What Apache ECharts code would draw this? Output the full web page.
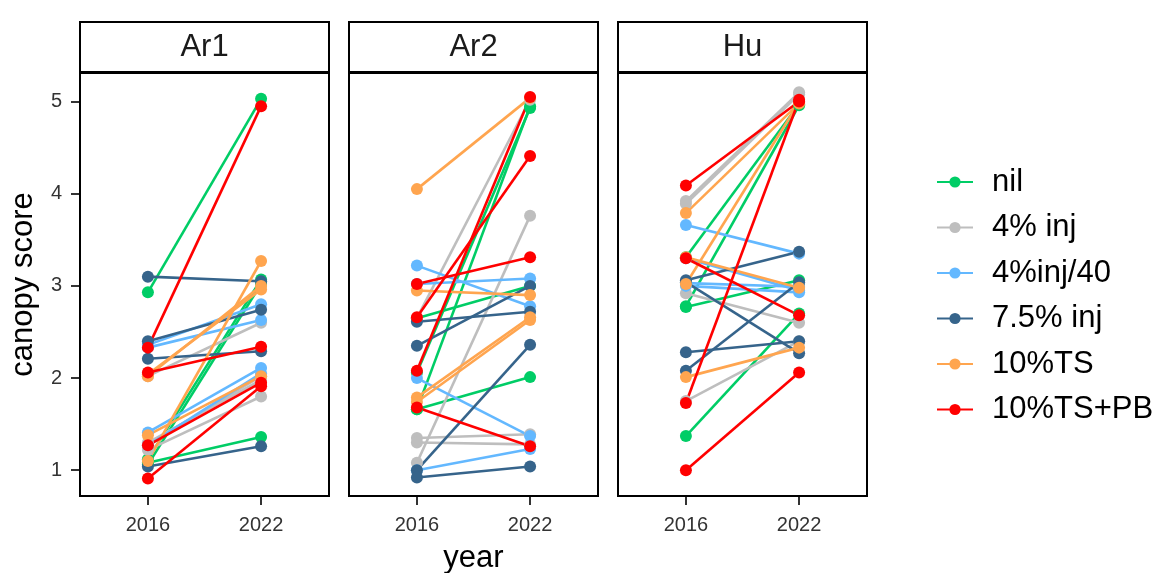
<!DOCTYPE html>
<html><head><meta charset="utf-8">
<script src="https://cdn.jsdelivr.net/npm/echarts@6/dist/echarts.min.js"></script>
<style>html,body{margin:0;padding:0;background:#fff}#c{width:1163px;height:573px}</style>
</head><body><div id="c"></div>
<script>
// ---------------- data ----------------
const sites = ['Ar1', 'Ar2', 'Hu'];
const years = ['2016', '2022'];
const treatments = ['nil', '4% inj', '4%inj/40', '7.5% inj', '10%TS', '10%TS+PB'];
const yTicks = [1, 2, 3, 4, 5];
// rows follow the treatments order; each row holds 4 plots (2016 start, 2022 end)
const ar1Start = [
  [2.93, 1.12, 1.06, 1.08],
  [2.02, 1.28, 1.22, 1.30],
  [2.36, 2.33, 1.41, 1.27],
  [3.10, 2.40, 2.21, 1.04],
  [2.02, 2.04, 1.10, 1.38],
  [2.33, 2.06, 1.27, 0.91]
];
const ar1End = [
  [5.03, 3.07, 3.02, 1.36],
  [2.60, 2.02, 1.80, 1.98],
  [2.80, 2.63, 2.11, 2.05],
  [3.05, 2.74, 2.29, 1.26],
  [3.00, 2.96, 3.27, 2.02],
  [4.95, 2.34, 1.95, 1.91]
];
const ar2Start = [
  [2.06, 1.66, 2.65, 1.66],
  [2.65, 1.08, 1.35, 1.30],
  [3.22, 3.02, 2.00, 1.00],
  [2.61, 2.35, 1.00, 0.92],
  [4.05, 2.95, 1.79, 1.74],
  [2.08, 2.66, 3.02, 1.68]
];
const ar2End = [
  [4.93, 4.95, 3.00, 2.01],
  [5.02, 3.76, 1.39, 1.28],
  [2.78, 3.08, 1.37, 1.23],
  [2.72, 3.00, 2.36, 1.04],
  [5.04, 2.90, 2.66, 2.63],
  [5.05, 4.41, 3.31, 1.26]
];
const huStart = [
  [3.31, 2.78, 2.77, 1.37],
  [3.92, 3.89, 2.92, 1.75],
  [3.66, 3.30, 3.03, 3.00],
  [3.06, 3.04, 2.28, 2.08],
  [3.79, 3.31, 3.02, 2.01],
  [4.09, 3.30, 1.73, 1.00]
];
const huEnd = [
  [4.97, 4.96, 3.06, 2.70],
  [5.10, 5.08, 2.60, 2.40],
  [3.35, 2.95, 2.99, 2.93],
  [3.37, 2.27, 2.40, 3.04],
  [4.98, 2.98, 4.99, 2.33],
  [5.00, 2.68, 5.02, 2.06]
];
const startBySite = [ar1Start, ar2Start, huStart];
const endBySite = [ar1End, ar2End, huEnd];

// ---------------- style ----------------
const colors = ['#00CD66', '#BEBEBE', '#63B8FF', '#36648B', '#FFA54F', '#FF0000'];
const FONT = '"Liberation Sans", Arial, sans-serif';
const panelLeft = [80, 349, 618];
const panelW = 249, panelTop = 73, panelH = 423;
const stripTop = 22;

const grids = [], xAxes = [], yAxes = [], series = [], graphics = [];
sites.forEach((site, s) => {
  grids.push({
    left: panelLeft[s], top: panelTop, width: panelW, height: panelH,
    show: true, borderColor: '#000', borderWidth: 2, backgroundColor: 'transparent', z: 5
  });
  xAxes.push({
    type: 'value', gridIndex: s, min: 0.4, max: 2.6,
    axisLine: { show: false }, splitLine: { show: false },
    axisTick: { show: true, customValues: [1, 2], length: 9, lineStyle: { color: '#333', width: 2 } },
    axisLabel: { show: true, customValues: [1, 2], margin: 19, fontSize: 20, color: '#333', fontFamily: FONT,
      formatter: v => years[Math.round(v) - 1] || '' }
  });
  const first = s === 0;
  yAxes.push({
    type: 'value', gridIndex: s, min: 0.72, max: 5.31,
    axisLine: { show: false }, splitLine: { show: false },
    axisTick: { show: first, customValues: yTicks, length: 9, lineStyle: { color: '#333', width: 2 } },
    axisLabel: { show: first, customValues: yTicks, margin: 18, fontSize: 20, color: '#333', fontFamily: FONT },
    name: first ? 'canopy score' : '', nameLocation: 'middle', nameGap: 41,
    nameTextStyle: { fontSize: 31, color: '#000', fontFamily: FONT }
  });
  treatments.forEach((t, k) => {
    const st = startBySite[s][k], en = endBySite[s][k];
    st.forEach((v0, j) => {
      series.push({
        type: 'line', name: t, xAxisIndex: s, yAxisIndex: s,
        data: [[1, v0], [2, en[j]]],
        symbol: 'circle', symbolSize: 12, showSymbol: true,
        lineStyle: { color: colors[k], width: 2.6 },
        itemStyle: { color: colors[k], borderWidth: 0 },
        emphasis: { disabled: true }, silent: true, animation: false, z: 2
      });
    });
  });
  graphics.push({
    type: 'rect', z: 10,
    shape: { x: panelLeft[s], y: stripTop, width: panelW, height: panelTop - stripTop },
    style: { fill: '#fff', stroke: '#000', lineWidth: 2 }
  });
  graphics.push({
    type: 'rect', z: 11,
    shape: { x: panelLeft[s], y: panelTop - 2, width: panelW, height: 3 },
    style: { fill: '#000' }
  });
  graphics.push({
    type: 'text', z: 12, x: panelLeft[s] + panelW / 2, y: (stripTop + panelTop) / 2,
    style: { text: site, align: 'center', verticalAlign: 'middle', font: '31px ' + FONT, fill: '#1a1a1a' }
  });
});
graphics.push({
  type: 'text', z: 12, x: (panelLeft[0] + panelLeft[2] + panelW) / 2, y: 558,
  style: { text: 'year', align: 'center', verticalAlign: 'middle', font: '31px ' + FONT, fill: '#000' }
});

const chart = echarts.init(document.getElementById('c'), null, { renderer: 'canvas' });
chart.setOption({
  animation: false,
  backgroundColor: '#fff',
  grid: grids, xAxis: xAxes, yAxis: yAxes, series: series, graphic: graphics,
  legend: {
    data: treatments, orient: 'vertical', left: 931, top: 161,
    itemWidth: 36, itemHeight: 14, itemGap: 13.5,
    textStyle: { fontSize: 31, fontFamily: FONT, color: '#000', lineHeight: 32, padding: [0, 0, 0, 14] },
    selectedMode: false
  }
});
</script></body></html>
